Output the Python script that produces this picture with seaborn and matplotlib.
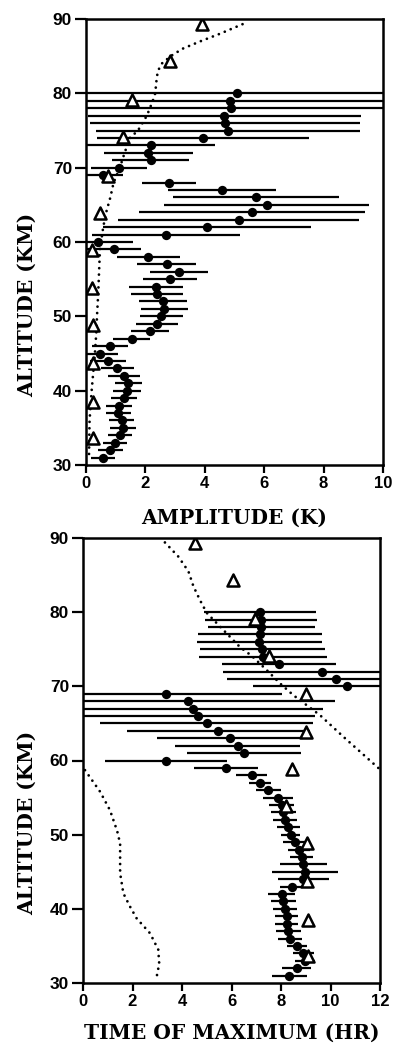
import numpy as np
import pandas as pd
import matplotlib
matplotlib.use("Agg")
import matplotlib.pyplot as plt
import seaborn as sns

# ---------------- data ----------------
altitude = list(range(31, 81))

amplitude = [0.58, 0.81, 0.98, 1.15, 1.26, 1.20, 1.09, 1.12, 1.28, 1.37,
             1.43, 1.28, 1.05, 0.75, 0.47, 0.81, 1.54, 2.15, 2.40, 2.53,
             2.64, 2.60, 2.39, 2.35, 2.83, 3.14, 2.72, 2.10, 0.95, 0.41,
             2.69, 4.06, 5.14, 5.58, 6.08, 5.72, 4.58, 2.80, 0.58, 1.12,
             2.18, 2.10, 2.18, 3.93, 4.79, 4.68, 4.66, 4.87, 4.85, 5.07]
amplitude_err = [0.41, 0.42, 0.40, 0.40, 0.44, 0.41, 0.42, 0.43, 0.43, 0.47,
                 0.47, 0.53, 0.55, 0.60, 0.60, 0.62, 0.62, 0.65, 0.71, 0.72,
                 0.80, 0.81, 0.87, 0.90, 0.92, 0.97, 1.00, 1.05, 0.90, 1.18,
                 2.50, 3.50, 4.05, 3.80, 3.45, 2.80, 1.82, 0.90, 0.65, 0.94,
                 1.30, 1.50, 2.15, 3.57, 4.45, 4.55, 4.60, 5.20, 5.50, 5.50]

tmax = [8.34, 8.63, 8.97, 8.90, 8.66, 8.36, 8.30, 8.23, 8.23, 8.16,
        8.09, 8.03, 8.43, 8.90, 8.97, 8.90, 8.84, 8.74, 8.57, 8.39,
        8.30, 8.16, 8.09, 8.03, 7.89, 7.49, 7.15, 6.81, 5.78, 3.35,
        6.50, 6.25, 5.94, 5.47, 5.00, 4.66, 4.46, 4.26, 3.35, 10.68,
        10.22, 9.67, 7.92, 7.27, 7.25, 7.12, 7.15, 7.20, 7.19, 7.15]
tmax_err = [0.70, 0.57, 0.40, 0.43, 0.40, 0.47, 0.50, 0.47, 0.47, 0.47,
            0.50, 0.54, 0.47, 1.04, 1.35, 0.94, 0.47, 0.44, 0.50, 0.37,
            0.47, 0.47, 0.50, 0.50, 0.60, 0.50, 0.45, 0.62, 1.29, 2.48,
            2.29, 2.52, 2.96, 3.70, 4.30, 4.70, 5.25, 5.92, 4.68, 3.83,
            4.40, 4.00, 2.32, 2.57, 2.52, 2.52, 2.52, 2.16, 2.27, 2.28]

tri_altitude = [89.3, 84.4, 79.1, 74.1, 68.9, 63.9, 58.9, 53.8, 48.9, 43.7, 38.5, 33.6]
tri_amplitude = [3.90, 2.83, 1.54, 1.24, 0.75, 0.47, 0.21, 0.19, 0.25, 0.25, 0.25, 0.22]
tri_tmax = [4.53, 6.07, 6.95, 7.53, 9.00, 9.00, 8.43, 8.20, 9.05, 9.05, 9.10, 9.10]

model_amp_alt = [89.3, 88, 87, 86, 85, 84, 83, 82, 80, 79, 77, 75, 74, 72, 70,
                 68, 66, 64, 62, 59, 56, 53, 50, 48, 45, 40, 36, 31]
model_amp = [5.27, 4.50, 3.85, 3.25, 2.85, 2.55, 2.42, 2.38, 2.33, 2.25, 2.05,
             1.75, 1.48, 1.30, 1.14, 0.93, 0.82, 0.68, 0.58, 0.47, 0.44, 0.41,
             0.37, 0.35, 0.30, 0.19, 0.12, 0.10]

model_t_alt_a = [89.4, 87.5, 85.5, 83.5, 81.6, 79.9, 77.6, 75.3, 74.1, 72.2,
                 70.4, 68.8, 66.1, 63.2, 59.0]
model_t_a = [3.31, 3.85, 4.26, 4.46, 4.73, 5.00, 5.67, 6.34, 6.82, 7.42,
             7.96, 8.50, 9.58, 10.52, 11.93]
model_t_alt_b = [58.7, 55.8, 53.3, 50.5, 48.8, 44.8, 42.1, 40.3, 38.7, 36.7,
                 34.5, 32.6, 30.9]
model_t_b = [0.08, 0.69, 1.09, 1.38, 1.50, 1.50, 1.63, 1.90, 2.17, 2.71,
             3.04, 3.08, 2.98]

y_ticks = [30, 40, 50, 60, 70, 80, 90]
amp_ticks = [0, 2, 4, 6, 8, 10]
t_ticks = [0, 2, 4, 6, 8, 10, 12]

# ---------------- style ----------------
sns.set_theme(style="ticks")
plt.rcParams["font.family"] = ["Liberation Sans", "DejaVu Sans"]
plt.rcParams["text.color"] = "black"
plt.rcParams["axes.labelcolor"] = "black"

LABEL_FONT = dict(family=["DejaVu Serif"], weight="bold", size=14.5, color="black")

fig = plt.figure(figsize=(3.95, 10.47), dpi=100)
W, H = 395, 1047
ax1 = fig.add_axes([86 / W, 1 - 465 / H, 297 / W, 446 / H])
ax2 = fig.add_axes([83 / W, 1 - 983 / H, 297 / W, 445 / H])

dotted = dict(color="black", lw=2.0, linestyle=(0, (0.01, 2.3)),
              dash_capstyle="round", sort=False, estimator=None)


def draw_panel(ax, xs, xerr, tri_x, curves, xlim, xticks, xlabel, ylab_x, xlab_y):
    ax.errorbar(xs, altitude, xerr=xerr, fmt="none", ecolor="black",
                elinewidth=1.6, capsize=0, zorder=2)
    for cx, cy in curves:
        sns.lineplot(x=cx, y=cy, ax=ax, zorder=2, **dotted)
    sns.scatterplot(x=xs, y=altitude, ax=ax, color="black", s=45,
                    linewidth=0, zorder=3)
    sns.scatterplot(x=tri_x, y=tri_altitude, ax=ax, marker="^", s=75,
                    color="white", edgecolor="black", linewidth=1.8, zorder=4)
    ax.set_xlim(*xlim)
    ax.set_ylim(30, 90)
    ax.set_xticks(xticks)
    ax.set_yticks(y_ticks)
    for sp in ax.spines.values():
        sp.set_visible(True)
        sp.set_linewidth(1.8)
        sp.set_color("black")
    ax.tick_params(axis="y", direction="out", length=8, width=1.6,
                   labelsize=12.5, pad=2, colors="black")
    ax.tick_params(axis="x", direction="out", length=6, width=1.6,
                   labelsize=12, pad=2, colors="black")
    for lab in ax.get_xticklabels() + ax.get_yticklabels():
        lab.set_fontweight("bold")
    ax.set_xlabel(xlabel, **LABEL_FONT)
    ax.set_ylabel("ALTITUDE (KM)", **LABEL_FONT)
    ax.yaxis.set_label_coords(ylab_x, 0.36)
    ax.xaxis.set_label_coords(0.5, xlab_y)
    ax.grid(False)


draw_panel(ax1, amplitude, amplitude_err, tri_amplitude,
           [(model_amp, model_amp_alt)], (0, 10), amp_ticks,
           "AMPLITUDE (K)", -0.165, -0.095)
draw_panel(ax2, tmax, tmax_err, tri_tmax,
           [(model_t_a, model_t_alt_a), (model_t_b, model_t_alt_b)],
           (0, 12), t_ticks, "TIME OF MAXIMUM (HR)", -0.155, -0.09)

fig.savefig("out.png", dpi=100)
